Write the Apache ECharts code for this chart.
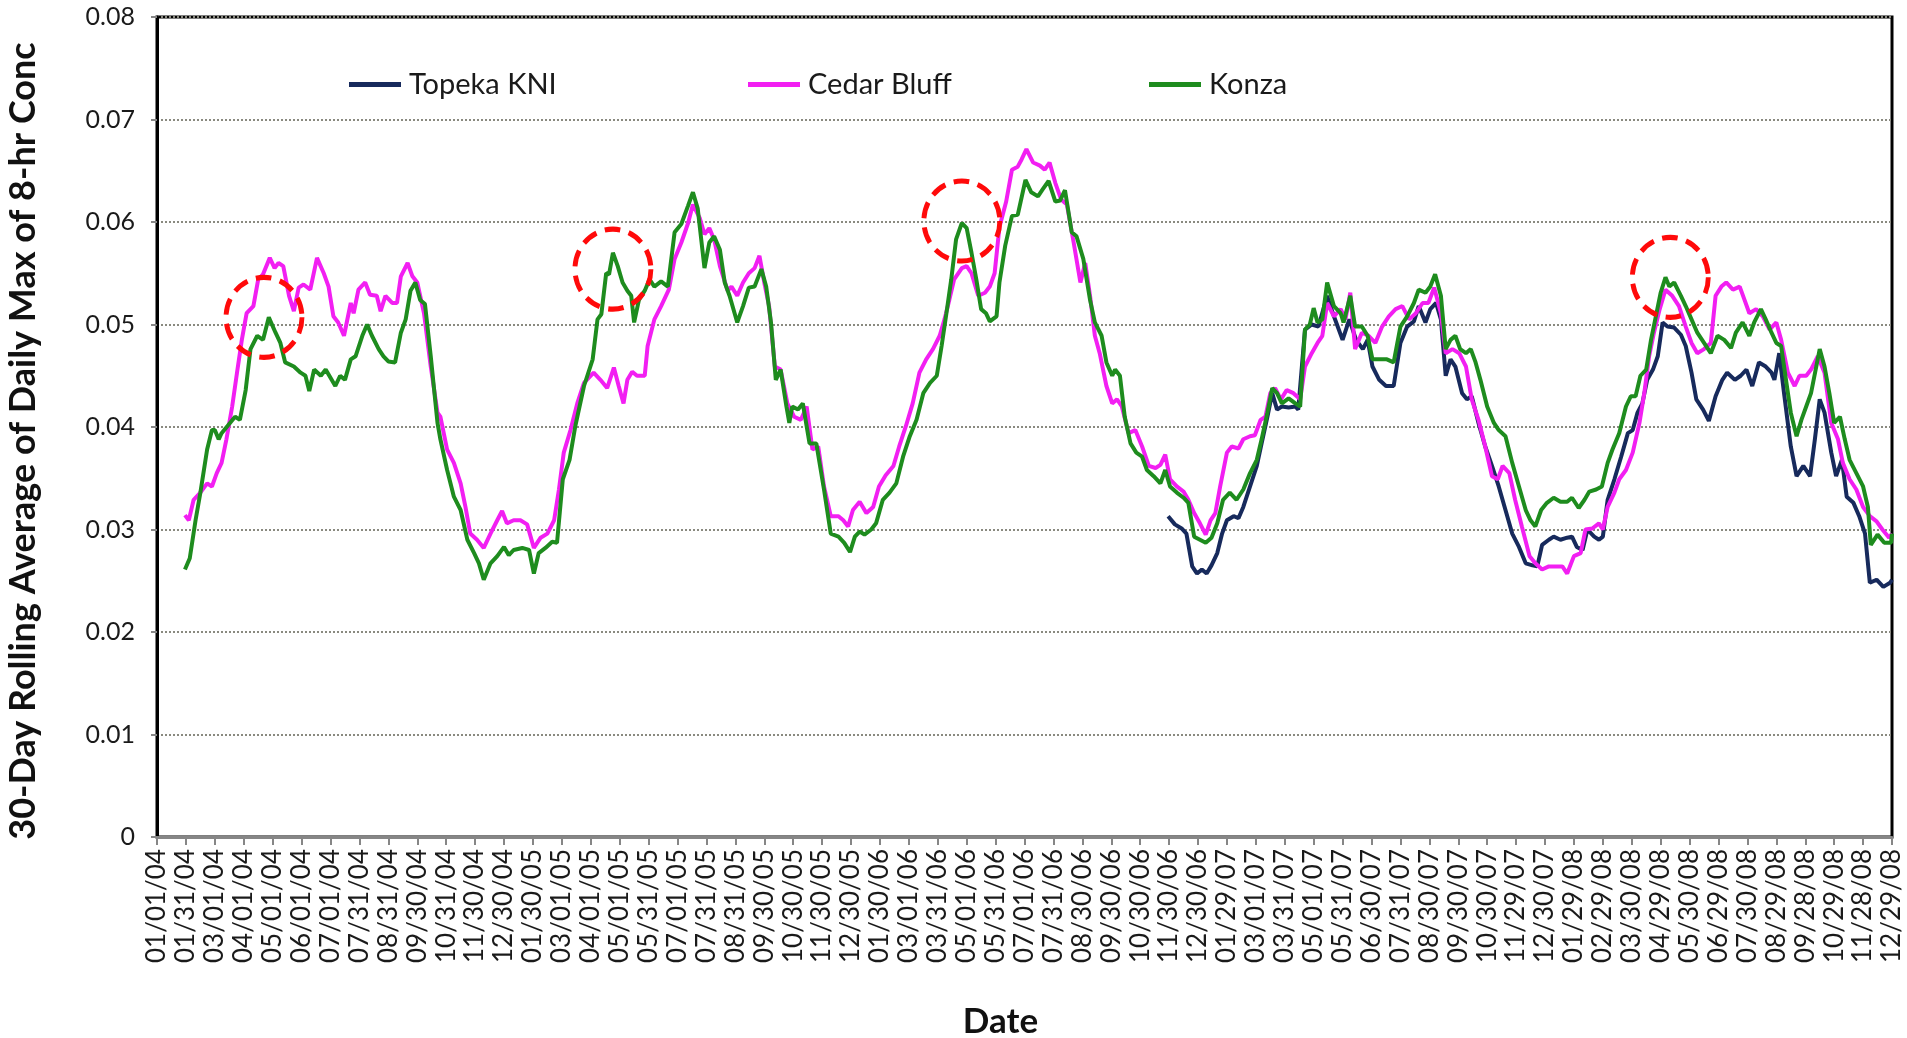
<!DOCTYPE html>
<html>
<head>
<meta charset="utf-8">
<title>30-Day Rolling Average of Daily Max of 8-hr Conc</title>
<script src="https://cdn.jsdelivr.net/npm/echarts@6/dist/echarts.min.js"></script>
<style>
  html, body { margin: 0; padding: 0; background: #ffffff; }
  #chart { width: 1907px; height: 1038px; }
</style>
</head>
<body>
<div id="chart"></div>
<script>
// Tick labels, one every 30 days starting 01/01/04
const tickLabels = [
  '01/01/04','01/31/04','03/01/04','04/01/04','05/01/04','06/01/04','07/01/04','07/31/04','08/31/04','09/30/04','10/31/04','11/30/04','12/30/04',
  '01/30/05','03/01/05','04/01/05','05/01/05','05/31/05','07/01/05','07/31/05','08/31/05','09/30/05','10/30/05','11/30/05','12/30/05',
  '01/30/06','03/01/06','03/31/06','05/01/06','05/31/06','07/01/06','07/31/06','08/30/06','09/30/06','10/30/06','11/30/06','12/30/06',
  '01/29/07','03/01/07','03/31/07','05/01/07','05/31/07','06/30/07','07/31/07','08/30/07','09/30/07','10/30/07','11/29/07','12/30/07',
  '01/29/08','02/29/08','03/30/08','04/29/08','05/30/08','06/29/08','07/30/08','08/29/08','09/28/08','10/29/08','11/28/08','12/29/08'
];
const DAYS_PER_TICK = 30;

// [day number since 01/01/04, 30-day rolling average (ppm)]
const topekaKNI = [
  [1049,0.0313],[1056,0.0305],[1063,0.0301],[1068,0.0296],[1074,0.0264],[1079,0.0257],[1084,0.0261],[1089,0.0257],
  [1094,0.0265],[1100,0.0277],[1105,0.0296],[1110,0.0309],[1117,0.0313],[1122,0.0311],[1127,0.0322],[1134,0.0342],
  [1141,0.0362],[1146,0.0384],[1152,0.0410],[1157,0.0433],[1162,0.0417],[1167,0.0420],[1174,0.0419],[1181,0.0420],
  [1184,0.0417],[1191,0.0495],[1198,0.0500],[1205,0.0498],[1214,0.0528],[1221,0.0508],[1230,0.0485],[1237,0.0505],
  [1244,0.0485],[1251,0.0476],[1256,0.0485],[1261,0.0459],[1268,0.0446],[1275,0.0440],[1283,0.0440],[1290,0.0482],
  [1297,0.0498],[1304,0.0503],[1309,0.0518],[1316,0.0502],[1321,0.0515],[1327,0.0521],[1332,0.0505],[1337,0.0450],
  [1342,0.0466],[1347,0.0459],[1354,0.0433],[1359,0.0427],[1364,0.0430],[1371,0.0404],[1378,0.0381],[1385,0.0362],
  [1392,0.0342],[1399,0.0319],[1406,0.0296],[1413,0.0283],[1420,0.0267],[1427,0.0265],[1432,0.0264],[1437,0.0285],
  [1444,0.0290],[1449,0.0293],[1456,0.0290],[1463,0.0292],[1468,0.0293],[1473,0.0283],[1479,0.0280],[1484,0.0300],
  [1491,0.0293],[1496,0.0290],[1500,0.0293],[1505,0.0329],[1512,0.0349],[1519,0.0371],[1526,0.0394],[1531,0.0397],
  [1536,0.0414],[1541,0.0423],[1546,0.0446],[1552,0.0456],[1557,0.0469],[1562,0.0502],[1567,0.0498],[1574,0.0497],
  [1581,0.0490],[1586,0.0479],[1592,0.0453],[1597,0.0427],[1604,0.0417],[1610,0.0406],[1617,0.0430],[1624,0.0446],
  [1629,0.0453],[1637,0.0446],[1643,0.0450],[1649,0.0456],[1655,0.0440],[1662,0.0463],[1669,0.0459],[1675,0.0453],
  [1678,0.0446],[1683,0.0472],[1688,0.0433],[1695,0.0381],[1701,0.0352],[1708,0.0362],[1715,0.0352],[1720,0.0388],
  [1725,0.0427],[1730,0.0414],[1737,0.0375],[1742,0.0352],[1748,0.0368],[1753,0.0332],[1760,0.0326],[1766,0.0313],
  [1772,0.0296],[1777,0.0248],[1784,0.0251],[1791,0.0244],[1798,0.0248],[1800,0.0251]
];

const cedarBluff = [
  [29,0.0314],[33,0.0309],[38,0.0329],[45,0.0336],[52,0.0345],[57,0.0342],[62,0.0355],[67,0.0365],
  [72,0.0388],[78,0.0420],[83,0.0453],[88,0.0485],[93,0.0511],[100,0.0518],[105,0.0544],[110,0.0549],
  [117,0.0565],[122,0.0555],[126,0.0560],[131,0.0557],[137,0.0528],[142,0.0513],[147,0.0536],[152,0.0539],
  [159,0.0534],[166,0.0565],[173,0.0550],[178,0.0537],[183,0.0508],[188,0.0502],[194,0.0489],[201,0.0521],
  [204,0.0511],[209,0.0534],[216,0.0541],[221,0.0529],[228,0.0528],[232,0.0513],[237,0.0528],[244,0.0521],
  [249,0.0521],[253,0.0547],[260,0.0560],[265,0.0547],[270,0.0541],[277,0.0511],[284,0.0459],[291,0.0414],
  [294,0.0410],[301,0.0378],[308,0.0365],[315,0.0345],[320,0.0322],[325,0.0296],[332,0.0290],[339,0.0282],
  [346,0.0296],[353,0.0309],[358,0.0318],[363,0.0306],[370,0.0309],[377,0.0309],[384,0.0305],[391,0.0282],
  [398,0.0292],[405,0.0296],[412,0.0309],[417,0.0339],[422,0.0375],[429,0.0397],[436,0.0423],[443,0.0443],
  [453,0.0453],[460,0.0446],[467,0.0438],[474,0.0458],[479,0.0440],[484,0.0423],[488,0.0446],[493,0.0454],
  [498,0.0450],[506,0.0450],[509,0.0479],[516,0.0505],[523,0.0518],[531,0.0534],[537,0.0564],[544,0.0580],
  [551,0.0599],[556,0.0617],[563,0.0604],[568,0.0588],[573,0.0594],[578,0.0583],[584,0.0557],[592,0.0533],
  [596,0.0537],[602,0.0528],[608,0.0541],[614,0.0550],[620,0.0555],[625,0.0567],[630,0.0541],[635,0.0518],
  [641,0.0459],[647,0.0456],[654,0.0423],[661,0.0410],[668,0.0407],[674,0.0420],[680,0.0378],[686,0.0381],
  [692,0.0342],[699,0.0313],[707,0.0313],[712,0.0309],[717,0.0303],[722,0.0319],[729,0.0327],[736,0.0316],
  [743,0.0322],[749,0.0342],[756,0.0353],[764,0.0362],[770,0.0381],[777,0.0401],[784,0.0423],[791,0.0453],
  [798,0.0466],[805,0.0476],[812,0.0489],[817,0.0505],[822,0.0524],[827,0.0544],[835,0.0555],[840,0.0557],
  [845,0.0550],[852,0.0528],[859,0.0531],[864,0.0537],[869,0.0550],[874,0.0595],[881,0.0620],[887,0.0651],
  [893,0.0654],[897,0.0661],[902,0.0671],[909,0.0658],[916,0.0655],[921,0.0651],[926,0.0658],[932,0.0638],
  [938,0.0622],[944,0.0617],[951,0.0580],[958,0.0541],[963,0.0560],[968,0.0528],[973,0.0489],[978,0.0472],
  [985,0.0440],[991,0.0423],[996,0.0427],[1001,0.0420],[1008,0.0394],[1015,0.0397],[1022,0.0381],[1029,0.0362],
  [1036,0.0360],[1041,0.0363],[1046,0.0373],[1051,0.0349],[1058,0.0342],[1065,0.0337],[1070,0.0329],[1076,0.0316],
  [1082,0.0306],[1088,0.0295],[1093,0.0309],[1098,0.0316],[1103,0.0342],[1110,0.0375],[1115,0.0381],[1122,0.0379],
  [1127,0.0388],[1134,0.0391],[1139,0.0392],[1145,0.0407],[1150,0.0410],[1155,0.0433],[1160,0.0438],[1166,0.0427],
  [1172,0.0436],[1179,0.0433],[1186,0.0427],[1191,0.0459],[1198,0.0472],[1204,0.0482],[1209,0.0489],[1214,0.0521],
  [1221,0.0508],[1228,0.0515],[1233,0.0505],[1238,0.0531],[1243,0.0476],[1250,0.0492],[1257,0.0489],[1264,0.0482],
  [1271,0.0498],[1278,0.0508],[1285,0.0515],[1292,0.0518],[1299,0.0505],[1306,0.0511],[1313,0.0521],[1319,0.0521],
  [1325,0.0536],[1332,0.0511],[1337,0.0472],[1344,0.0476],[1351,0.0472],[1358,0.0459],[1364,0.0427],[1371,0.0407],
  [1378,0.0381],[1385,0.0352],[1391,0.0349],[1396,0.0362],[1403,0.0355],[1409,0.0329],[1416,0.0303],[1424,0.0274],
  [1430,0.0267],[1437,0.0261],[1444,0.0264],[1451,0.0264],[1458,0.0264],[1463,0.0257],[1470,0.0274],[1477,0.0277],
  [1482,0.0300],[1489,0.0301],[1496,0.0306],[1500,0.0300],[1505,0.0322],[1512,0.0336],[1517,0.0349],[1524,0.0358],
  [1531,0.0375],[1538,0.0404],[1543,0.0433],[1548,0.0469],[1553,0.0492],[1559,0.0515],[1565,0.0534],[1572,0.0528],
  [1579,0.0518],[1586,0.0498],[1592,0.0482],[1598,0.0472],[1605,0.0476],[1612,0.0482],[1617,0.0528],[1623,0.0537],
  [1628,0.0541],[1635,0.0534],[1642,0.0537],[1647,0.0524],[1652,0.0511],[1659,0.0515],[1666,0.0508],[1673,0.0495],
  [1680,0.0502],[1685,0.0485],[1692,0.0453],[1699,0.0440],[1704,0.0450],[1711,0.0450],[1716,0.0456],[1723,0.0469],
  [1730,0.0453],[1737,0.0404],[1744,0.0388],[1749,0.0365],[1756,0.0349],[1763,0.0339],[1770,0.0322],[1777,0.0313],
  [1784,0.0308],[1790,0.0300],[1797,0.0292],[1800,0.0296]
];

const konza = [
  [29,0.0261],[34,0.0272],[40,0.0309],[45,0.0336],[52,0.0378],[57,0.0397],[60,0.0397],[64,0.0388],
  [67,0.0394],[74,0.0402],[81,0.0410],[86,0.0407],[92,0.0436],[97,0.0476],[104,0.0489],[110,0.0485],
  [116,0.0507],[123,0.0492],[128,0.0482],[133,0.0463],[142,0.0459],[149,0.0453],[154,0.0450],[158,0.0435],
  [163,0.0456],[170,0.0450],[175,0.0456],[180,0.0448],[185,0.0440],[190,0.0450],[195,0.0446],[201,0.0466],
  [206,0.0469],[213,0.0489],[218,0.0500],[223,0.0489],[230,0.0476],[235,0.0469],[240,0.0464],[247,0.0463],
  [253,0.0492],[258,0.0505],[263,0.0533],[268,0.0541],[273,0.0524],[278,0.0520],[284,0.0469],[291,0.0404],
  [294,0.0388],[301,0.0358],[308,0.0332],[315,0.0319],[322,0.0290],[329,0.0277],[334,0.0267],[339,0.0251],
  [346,0.0267],[353,0.0274],[360,0.0283],[365,0.0275],[370,0.0280],[379,0.0282],[386,0.0280],[391,0.0257],
  [396,0.0277],[403,0.0282],[410,0.0288],[415,0.0287],[421,0.0349],[428,0.0368],[434,0.0401],[443,0.0440],
  [452,0.0466],[457,0.0505],[461,0.0510],[466,0.0550],[469,0.0549],[473,0.0570],[478,0.0557],[483,0.0541],
  [488,0.0533],[492,0.0528],[495,0.0502],[500,0.0524],[506,0.0533],[511,0.0544],[516,0.0537],[523,0.0542],
  [530,0.0537],[537,0.0590],[544,0.0598],[551,0.0616],[556,0.0629],[561,0.0613],[568,0.0555],[573,0.0580],
  [578,0.0586],[584,0.0573],[589,0.0541],[594,0.0528],[602,0.0502],[608,0.0518],[614,0.0536],[620,0.0537],
  [627,0.0554],[632,0.0537],[637,0.0502],[642,0.0446],[647,0.0456],[653,0.0420],[656,0.0404],[659,0.0420],
  [665,0.0417],[670,0.0423],[677,0.0384],[684,0.0384],[692,0.0339],[699,0.0296],[707,0.0293],[713,0.0287],
  [719,0.0278],[724,0.0293],[729,0.0298],[734,0.0295],[741,0.0300],[746,0.0306],[753,0.0329],[760,0.0336],
  [767,0.0345],[774,0.0371],[781,0.0391],[788,0.0407],[795,0.0433],[802,0.0443],[809,0.0450],[814,0.0479],
  [819,0.0511],[824,0.0544],[829,0.0583],[835,0.0599],[840,0.0594],[845,0.0570],[850,0.0544],[855,0.0515],
  [860,0.0511],[864,0.0503],[871,0.0508],[874,0.0541],[880,0.0577],[887,0.0606],[893,0.0607],[901,0.0641],
  [907,0.0629],[914,0.0625],[919,0.0632],[925,0.0640],[932,0.0620],[937,0.0621],[942,0.0631],[949,0.0590],
  [954,0.0586],[961,0.0564],[968,0.0524],[973,0.0502],[980,0.0489],[985,0.0463],[991,0.0450],[994,0.0456],
  [999,0.0450],[1004,0.0410],[1010,0.0384],[1016,0.0375],[1022,0.0371],[1027,0.0358],[1034,0.0352],[1041,0.0345],
  [1046,0.0358],[1051,0.0342],[1058,0.0336],[1065,0.0331],[1070,0.0326],[1076,0.0293],[1082,0.0290],[1088,0.0287],
  [1094,0.0292],[1100,0.0306],[1106,0.0329],[1113,0.0336],[1120,0.0329],[1127,0.0339],[1134,0.0355],[1141,0.0368],
  [1146,0.0388],[1152,0.0414],[1157,0.0438],[1162,0.0433],[1167,0.0423],[1174,0.0428],[1181,0.0423],[1186,0.0420],
  [1191,0.0495],[1196,0.0500],[1200,0.0516],[1204,0.0502],[1209,0.0505],[1214,0.0541],[1221,0.0518],[1228,0.0511],
  [1231,0.0502],[1238,0.0528],[1243,0.0498],[1250,0.0498],[1256,0.0489],[1261,0.0466],[1268,0.0466],[1276,0.0466],
  [1283,0.0463],[1290,0.0498],[1297,0.0508],[1304,0.0521],[1309,0.0534],[1316,0.0531],[1321,0.0537],[1326,0.0549],
  [1332,0.0528],[1337,0.0476],[1342,0.0485],[1347,0.0489],[1352,0.0476],[1358,0.0472],[1363,0.0476],[1368,0.0463],
  [1373,0.0446],[1380,0.0420],[1387,0.0404],[1392,0.0397],[1399,0.0391],[1406,0.0365],[1413,0.0342],[1420,0.0319],
  [1425,0.0309],[1430,0.0303],[1436,0.0319],[1442,0.0326],[1449,0.0331],[1456,0.0327],[1463,0.0327],[1468,0.0331],
  [1475,0.0321],[1481,0.0329],[1486,0.0337],[1493,0.0339],[1499,0.0342],[1505,0.0365],[1510,0.0378],[1517,0.0394],
  [1524,0.0420],[1529,0.0430],[1534,0.0430],[1539,0.0450],[1545,0.0456],[1550,0.0485],[1555,0.0508],[1560,0.0531],
  [1565,0.0546],[1569,0.0537],[1574,0.0541],[1581,0.0528],[1586,0.0518],[1592,0.0505],[1598,0.0492],[1605,0.0482],
  [1612,0.0472],[1619,0.0489],[1626,0.0485],[1633,0.0477],[1638,0.0492],[1645,0.0502],[1652,0.0489],[1657,0.0502],
  [1664,0.0515],[1669,0.0505],[1675,0.0492],[1680,0.0482],[1685,0.0479],[1690,0.0446],[1695,0.0414],[1701,0.0391],
  [1706,0.0407],[1711,0.0420],[1716,0.0433],[1725,0.0476],[1730,0.0459],[1735,0.0433],[1740,0.0404],[1746,0.0410],
  [1751,0.0388],[1756,0.0368],[1763,0.0355],[1770,0.0342],[1775,0.0322],[1778,0.0285],[1785,0.0295],[1792,0.0287],
  [1799,0.0287],[1800,0.0296]
];

// Spring peaks called out with dashed rings
const highlightPeaks = [[111,0.0507],[473,0.0554],[835,0.0601],[1570,0.0546]];

const seriesNames = ['Topeka KNI', 'Cedar Bluff', 'Konza'];
const seriesColors = ['#172a5c', '#f21ff2', '#1e8c1e'];

const FONT = 'Lato, "Open Sans", "Liberation Sans", sans-serif';
const chart = echarts.init(document.getElementById('chart'), null, { renderer: 'canvas' });

// one legend block per station so each entry sits at its own column
const legendLefts = [349, 748, 1149];
const legends = seriesNames.map((name, i) => ({
  data: [name],
  left: legendLefts[i], top: 70, padding: 0,
  icon: 'rect', itemWidth: 52, itemHeight: 5, itemGap: 0,
  selectedMode: false,
  textStyle: { fontFamily: FONT, fontSize: 29, color: '#1a1a1a', padding: [0, 0, 0, 3] }
}));

chart.setOption({
  animation: false,
  backgroundColor: '#ffffff',
  textStyle: { fontFamily: FONT },
  grid: {
    left: 157, right: 15, top: 17, bottom: 201,
    outerBoundsMode: 'none',
    containLabel: false,
    show: true, borderColor: '#000000', borderWidth: 3, backgroundColor: 'transparent'
  },
  legend: legends,
  xAxis: {
    type: 'value', min: 0, max: (tickLabels.length - 1) * DAYS_PER_TICK, interval: DAYS_PER_TICK,
    z: 5,
    name: 'Date', nameLocation: 'middle', nameGap: 167,
    nameTextStyle: { fontFamily: FONT, fontSize: 35, fontWeight: 'bold', color: '#111', padding: [0, 48, 0, 0] },
    axisLine: { onZero: false, lineStyle: { color: '#868686', width: 3 } },
    axisTick: { show: true, length: 8, lineStyle: { color: '#868686', width: 2 } },
    splitLine: { show: false },
    axisLabel: {
      rotate: 90, margin: 12, fontFamily: FONT, fontSize: 26, color: '#1a1a1a',
      showMinLabel: true, showMaxLabel: true,
      formatter: v => tickLabels[Math.round(v / DAYS_PER_TICK)] || ''
    }
  },
  yAxis: {
    type: 'value', min: 0, max: 0.08, interval: 0.01,
    name: '30-Day Rolling Average of Daily Max of 8-hr Conc',
    nameLocation: 'middle', nameGap: 116, nameRotate: 90,
    nameTextStyle: { fontFamily: FONT, fontSize: 36, fontWeight: 'bold', color: '#111', padding: [0, 28, 0, 0] },
    axisLine: { show: true, lineStyle: { color: '#000000', width: 3 } },
    axisTick: { show: true, length: 6, lineStyle: { color: '#868686', width: 2 } },
    axisLabel: { margin: 22, fontFamily: FONT, fontSize: 25, color: '#1a1a1a' },
    splitLine: { show: true, lineStyle: { color: '#8a8a80', width: 2, type: [2, 2] } }
  },
  series: [
    {
      name: seriesNames[0], type: 'line', data: topekaKNI, showSymbol: false,
      lineStyle: { color: seriesColors[0], width: 4 }, itemStyle: { color: seriesColors[0] }
    },
    {
      name: seriesNames[1], type: 'line', data: cedarBluff, showSymbol: false,
      lineStyle: { color: seriesColors[1], width: 4 }, itemStyle: { color: seriesColors[1] }
    },
    {
      name: seriesNames[2], type: 'line', data: konza, showSymbol: false,
      lineStyle: { color: seriesColors[2], width: 4 }, itemStyle: { color: seriesColors[2] }
    },
    {
      name: 'peaks', type: 'scatter', data: highlightPeaks, z: 10,
      symbol: 'circle', symbolSize: [76, 80], silent: true,
      itemStyle: {
        color: 'rgba(0,0,0,0)', opacity: 1,
        borderColor: '#ff0a0a', borderWidth: 5, borderType: [16, 9]
      }
    }
  ]
});
</script>
</body>
</html>
